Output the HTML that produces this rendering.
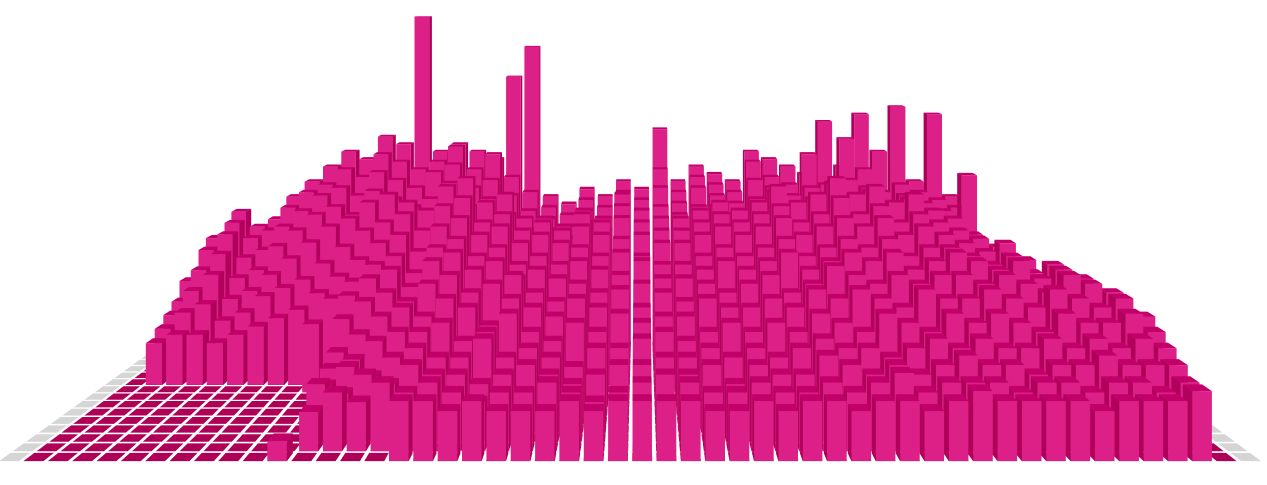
<!DOCTYPE html>
<html><head><meta charset="utf-8"><style>
html,body{margin:0;padding:0;background:#fff;width:1267px;height:485px;overflow:hidden}
svg{display:block}
</style></head><body>
<svg id="chart" width="1267" height="485" viewBox="0 0 1267 485" xmlns="http://www.w3.org/2000/svg">
<g id="floor"></g>
<g id="bars"></g>
</svg>
<script>
// height data, row z0 = front, z15 = back; 50 columns each
const z0=[0,0,0,0,0,0,0,0,0,0,2,0,0,0,0,6,6,5,6,5,5,5,6,5,6,6,6,6,5,5,6,5,6,6,5,6,6,5,6,7,6,6,6,6,5,6,6,6,7,0];
const z1=[0,0,0,0,0,0,0,0,0,0,0,4,6,5,7,6,7,6,5,6,6,7,6,5,6,7,5,7,6,6,7,6,6,7,6,7,8,6,7,7,7,6,7,7,6,7,7,6,7,0];
const z2=[0,0,0,0,0,0,0,0,0,0,0,6,5,7,6,8,7,7,6,7,8,7,6,7,8,8,7,7,8,6,8,7,7,9,8,7,8,7,8,9,8,8,7,8,8,9,8,8,8,0];
const z3=[0,0,0,0,0,0,0,0,0,0,0,5,7,6,8,9,8,8,10,8,9,8,7,9,9,10,8,8,9,8,9,8,9,10,9,9,8,9,10,9,10,9,9,10,9,10,9,10,9,0];
const z4=[0,0,0,0,0,0,0,0,0,0,0,6,7,9,10,10,11,9,10,12,10,9,11,10,12,11,10,9,10,11,10,11,10,12,11,10,12,11,10,12,11,12,11,10,12,11,11,12,10,0];
const z5=[0,0,0,0,0,0,0,0,0,0,0,7,9,11,12,11,13,12,10,13,12,11,13,12,14,12,11,11,13,12,12,13,12,14,13,14,13,12,14,13,13,14,13,12,14,13,12,13,11,0];
const z6=[0,0,0,0,0,0,0,0,0,0,0,10,12,13,12,14,15,13,14,15,13,12,14,13,15,14,13,12,14,13,14,15,13,14,16,15,14,15,14,15,15,14,15,14,13,15,14,13,0,0];
const z7=[0,0,0,0,0,0,0,0,0,0,0,12,14,15,13,16,17,15,16,14,15,14,16,15,17,16,14,14,15,16,15,16,17,15,16,17,16,17,15,16,17,16,15,16,14,15,14,0,0,0];
const z8=[0,0,0,0,0,0,0,0,0,8,11,13,15,16,14,17,18,16,17,15,16,15,17,16,18,16,15,15,16,17,16,17,18,16,17,18,17,18,16,17,17,16,15,16,14,15,0,0,0,0];
const z9=[0,5,6,6,5,6,7,8,9,11,13,15,17,18,16,19,20,18,19,17,18,17,19,18,20,18,17,17,18,19,18,19,20,18,19,20,19,20,18,19,18,17,16,17,15,0,0,0,0,0];
const z10=[0,6,8,9,7,8,10,11,12,14,16,18,19,20,18,21,22,19,20,18,19,18,20,19,21,19,18,18,19,20,19,20,21,19,20,22,20,21,19,20,19,18,17,16,0,0,0,0,0,0];
const z11=[0,7,10,12,9,10,12,14,16,18,19,21,22,21,20,23,24,21,22,19,19,18,20,19,22,20,19,19,20,21,20,21,23,21,22,24,22,23,21,22,20,19,17,0,0,0,0,0,0,0];
const z12=[0,8,12,14,11,12,15,17,19,20,19,22,21,20,21,23,20,21,19,17,17,16,18,17,19,18,20,19,20,20,19,21,22,20,21,23,21,22,20,21,19,18,24,0,0,0,0,0,0,0];
const z13=[0,10,14,16,13,14,17,19,21,22,21,24,23,22,24,25,22,23,21,19,18,17,19,18,20,19,22,20,22,21,20,23,22,21,22,21,23,22,20,21,20,19,18,0,0,0,0,0,0,0];
const z14=[0,0,15,17,15,16,19,21,22,24,23,26,25,24,25,27,24,26,23,21,19,18,20,19,21,20,24,21,23,22,21,25,23,22,26,22,28,24,21,22,21,20,19,0,0,0,0,0,0,0];
const z15=[0,0,0,18,16,17,20,22,24,26,25,28,27,44,26,27,26,25,36,40,20,19,21,20,22,21,29,22,24,23,22,26,25,24,23,30,24,31,26,32,22,31,20,0,0,0,0,0,0,0];
const rows=[z0,z1,z2,z3,z4,z5,z6,z7,z8,z9,z10,z11,z12,z13,z14,z15];

const NS='http://www.w3.org/2000/svg';
const C=50, R=rows.length, CX=640, A=0.022, CELL=24.4, X0=20, FRONT=462, HS=10;
function P(x,z,h){const d=1+A*z;const wx=X0+x*CELL;return [CX+(wx-CX)/d, FRONT/d - h*HS/d];}
function poly(g,pts,fill,name){
  const p=document.createElementNS(NS,'polygon');
  p.setAttribute('points',pts.map(q=>q[0].toFixed(1)+','+q[1].toFixed(1)).join(' '));
  p.setAttribute('fill',fill);
  
  
  g.appendChild(p);
}
const floor=document.getElementById('floor');
for(let z=R-1;z>=0;z--){
  for(let c=-1;c<=C;c++){
    const g=(c<0||c>=C);
    const i=0.09;
    poly(floor,[P(c+i,z+i,0),P(c+1-i,z+i,0),P(c+1-i,z+1-i,0),P(c+i,z+1-i,0)], g?'#d5d5d5':'#ae0057','floor-cell');
  }
}
const bars=document.getElementById('bars');
const centerCol=(CX-X0)/CELL;
for(let z=R-1;z>=0;z--){
  const order=[];
  for(let c=0;c<C;c++)order.push(c);
  order.sort((a,b)=>Math.abs(b+0.5-centerCol)-Math.abs(a+0.5-centerCol));
  for(const c of order){
    const h=rows[z][c]; if(!h)continue;
    const x0=c+0.1,x1=c+0.9,zf=z+0.1,zb=z+0.9;
    if(c+0.5<centerCol){
      poly(bars,[P(x1,zf,0),P(x1,zb,0),P(x1,zb,h),P(x1,zf,h)],'#b1005b','bar-side');
    }else{
      poly(bars,[P(x0,zf,0),P(x0,zb,0),P(x0,zb,h),P(x0,zf,h)],'#b1005b','bar-side');
    }
    poly(bars,[P(x0,zf,h),P(x1,zf,h),P(x1,zb,h),P(x0,zb,h)],'#c1006a','bar-top');
    poly(bars,[P(x0,zf,0),P(x1,zf,0),P(x1,zf,h),P(x0,zf,h)],'#dd2087','bar-front');
  }
}
</script>
</body></html>
